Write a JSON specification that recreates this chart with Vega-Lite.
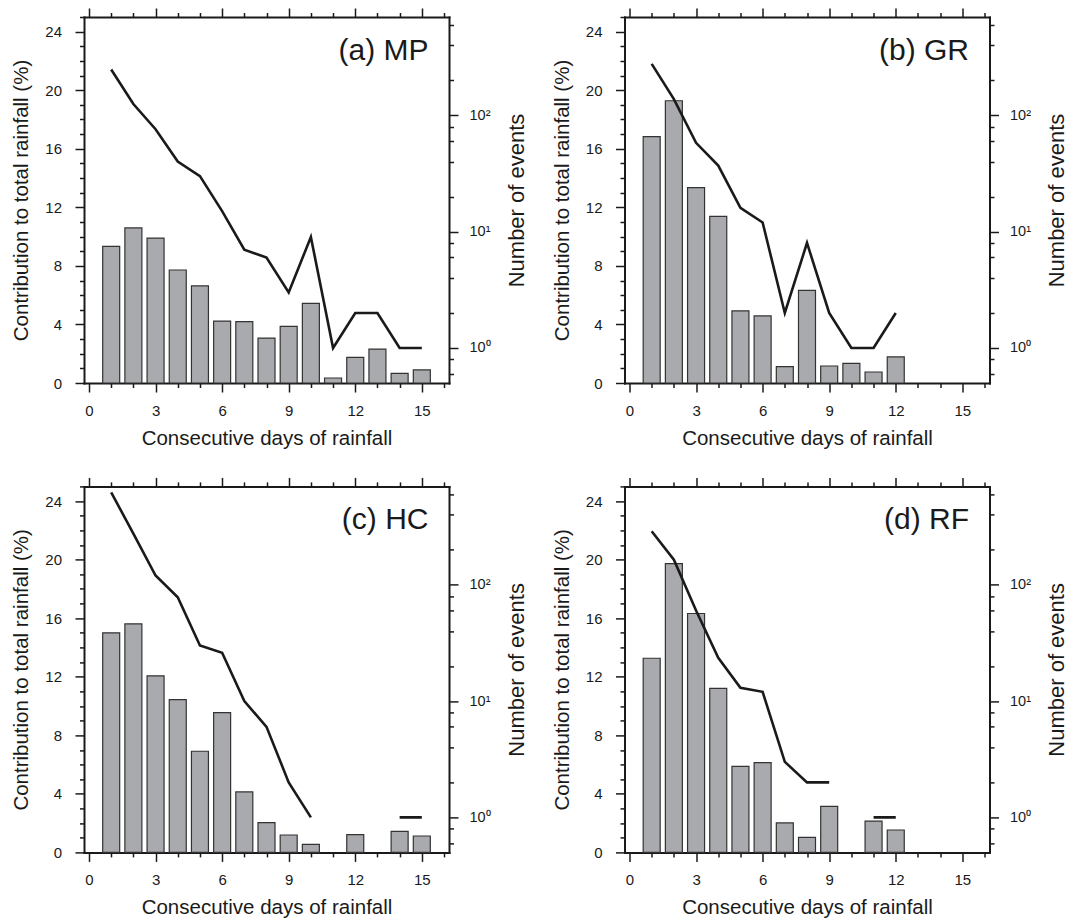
{
  "$schema": "https://vega.github.io/schema/vega-lite/v6.json",
  "background": "white",
  "padding": {"left": 11, "top": 7, "right": 5, "bottom": 2},
  "config": {
    "view": {"stroke": null},
    "axis": {
      "grid": false,
      "labelFont": "Liberation Sans",
      "titleFont": "Liberation Sans",
      "labelFontSize": 15,
      "titleFontSize": 20.5,
      "titleFontWeight": "normal",
      "labelColor": "#1a1a1a",
      "titleColor": "#1a1a1a",
      "domainColor": "#1a1a1a",
      "tickColor": "#1a1a1a",
      "domainWidth": 2,
      "tickWidth": 1.5,
      "labelFlush": false,
      "labelOverlap": false,
      "labelBound": false,
      "domainCap": "square",
      "zindex": 1
    }
  },
  "datasets": {
    "MP": [
      {"day": 1, "pct": 9.33, "events": 248},
      {"day": 2, "pct": 10.59, "events": 125},
      {"day": 3, "pct": 9.9, "events": 76},
      {"day": 4, "pct": 7.72, "events": 40},
      {"day": 5, "pct": 6.63, "events": 30},
      {"day": 6, "pct": 4.23, "events": 15},
      {"day": 7, "pct": 4.19, "events": 7},
      {"day": 8, "pct": 3.07, "events": 6},
      {"day": 9, "pct": 3.87, "events": 3},
      {"day": 10, "pct": 5.44, "events": 9},
      {"day": 11, "pct": 0.34, "events": 1},
      {"day": 12, "pct": 1.75, "events": 2},
      {"day": 13, "pct": 2.32, "events": 2},
      {"day": 14, "pct": 0.66, "events": 1},
      {"day": 15, "pct": 0.89, "events": 1}
    ],
    "GR": [
      {"day": 1, "pct": 16.83, "events": 277},
      {"day": 2, "pct": 19.28, "events": 138},
      {"day": 3, "pct": 13.34, "events": 58},
      {"day": 4, "pct": 11.38, "events": 37},
      {"day": 5, "pct": 4.92, "events": 16},
      {"day": 6, "pct": 4.58, "events": 12},
      {"day": 7, "pct": 1.12, "events": 2},
      {"day": 8, "pct": 6.33, "events": 8},
      {"day": 9, "pct": 1.16, "events": 2},
      {"day": 10, "pct": 1.34, "events": 1},
      {"day": 11, "pct": 0.75, "events": 1},
      {"day": 12, "pct": 1.78, "events": 2}
    ],
    "HC": [
      {"day": 1, "pct": 15.0, "events": 622},
      {"day": 2, "pct": 15.61, "events": 275},
      {"day": 3, "pct": 12.06, "events": 120},
      {"day": 4, "pct": 10.44, "events": 78},
      {"day": 5, "pct": 6.91, "events": 30},
      {"day": 6, "pct": 9.55, "events": 26},
      {"day": 7, "pct": 4.13, "events": 10},
      {"day": 8, "pct": 2.03, "events": 6},
      {"day": 9, "pct": 1.19, "events": 2},
      {"day": 10, "pct": 0.55, "events": 1},
      {"day": 11, "pct": null, "events": null},
      {"day": 12, "pct": 1.21, "events": null},
      {"day": 13, "pct": null, "events": null},
      {"day": 14, "pct": 1.44, "events": 1},
      {"day": 15, "pct": 1.12, "events": 1}
    ],
    "RF": [
      {"day": 1, "pct": 13.26, "events": 288},
      {"day": 2, "pct": 19.72, "events": 164},
      {"day": 3, "pct": 16.32, "events": 60},
      {"day": 4, "pct": 11.21, "events": 23.5},
      {"day": 5, "pct": 5.88, "events": 13},
      {"day": 6, "pct": 6.13, "events": 12},
      {"day": 7, "pct": 2.01, "events": 3},
      {"day": 8, "pct": 1.03, "events": 2},
      {"day": 9, "pct": 3.15, "events": 2},
      {"day": 10, "pct": null, "events": null},
      {"day": 11, "pct": 2.14, "events": 1},
      {"day": 12, "pct": 1.53, "events": 1}
    ]
  },
  "columns": 2,
  "spacing": {"row": 103.4, "column": 175.5},
  "bounds": "flush",
  "concat": [
    {
      "data": {"name": "MP"},
      "width": 365, "height": 366,
      "title": {"text": "(a) MP", "anchor": "end", "frame": "group", "fontSize": 30, "fontWeight": "normal", "font": "Liberation Sans", "color": "#1a1a1a", "baseline": "alphabetic", "dx": -20.5, "dy": 87, "offset": 4},
      "layer": [
        {"mark": {"type": "bar", "size": 17, "fill": "#a9aaae", "stroke": "#333333", "strokeWidth": 1.2},
         "encoding": {
           "x": {"field": "day", "type": "quantitative", "scale": {"domain": [0, 16], "nice": false, "zero": false}, "axis": {"orient": "bottom", "values": [0, 3, 6, 9, 12, 15], "tickSize": 9, "labelPadding": 11.5, "title": "Consecutive days of rainfall", "titlePadding": 10}},
           "y": {"field": "pct", "type": "quantitative", "scale": {"domain": [0, 25], "nice": false}, "axis": {"orient": "left", "values": [0, 4, 8, 12, 16, 20, 24], "tickSize": 9, "labelPadding": 13.5, "title": "Contribution to total rainfall (%)", "titlePadding": 13}}
         }},
        {"mark": {"type": "line", "stroke": "#1a1a1a", "strokeWidth": 2.6, "invalid": "break-paths-filter-domains"},
         "encoding": {
           "x": {"field": "day", "type": "quantitative", "scale": {"domain": [0, 16], "nice": false, "zero": false}, "axis": {"orient": "bottom", "values": [1, 2, 4, 5, 7, 8, 10, 11, 13, 14, 16], "tickSize": 4.5, "labels": false, "domain": false, "title": null}},
           "y": {"field": "events", "type": "quantitative", "scale": {"type": "log", "domain": [0.5, 700], "nice": false}, "axis": {"orient": "right", "values": [1, 10, 100], "tickSize": 9, "labelPadding": 11, "labelFontSize": 14.5, "labelExpr": "datum.value == 1 ? '10⁰' : datum.value == 10 ? '10¹' : '10²'", "title": "Number of events", "titleAngle": -90, "titleBaseline": "top", "titlePadding": 16, "titleFontSize": 22}}
         }},
        {"mark": {"type": "point", "opacity": 0},
         "encoding": {
           "x": {"field": "day", "type": "quantitative", "scale": {"domain": [0, 16], "nice": false, "zero": false}, "axis": {"orient": "top", "values": [0, 3, 6, 9, 12, 15], "tickSize": 9, "labels": false, "title": null}},
           "y": {"field": "pct", "type": "quantitative", "scale": {"domain": [0, 25], "nice": false}, "axis": {"orient": "left", "values": [1, 2, 3, 5, 6, 7, 9, 10, 11, 13, 14, 15, 17, 18, 19, 21, 22, 23, 25], "tickSize": 4.5, "labels": false, "domain": false, "title": null}}
         }},
        {"mark": {"type": "point", "opacity": 0},
         "encoding": {
           "x": {"field": "day", "type": "quantitative", "scale": {"domain": [0, 16], "nice": false, "zero": false}, "axis": {"orient": "top", "values": [1, 2, 4, 5, 7, 8, 10, 11, 13, 14, 16], "tickSize": 4.5, "labels": false, "domain": false, "title": null}},
           "y": {"field": "events", "type": "quantitative", "scale": {"type": "log", "domain": [0.5, 700], "nice": false}, "axis": {"orient": "right", "values": [0.6, 0.8, 2, 4, 6, 8, 20, 40, 60, 80, 200, 400, 600], "tickSize": 4.5, "labels": false, "domain": false, "title": null}}
         }}
      ],
      "resolve": {"scale": {"y": "independent"}, "axis": {"x": "independent", "y": "independent"}}
    },
    {
      "data": {"name": "GR"},
      "width": 365, "height": 366,
      "title": {"text": "(b) GR", "anchor": "end", "frame": "group", "fontSize": 30, "fontWeight": "normal", "font": "Liberation Sans", "color": "#1a1a1a", "baseline": "alphabetic", "dx": -20.5, "dy": 87, "offset": 4},
      "layer": [
        {"mark": {"type": "bar", "size": 17, "fill": "#a9aaae", "stroke": "#333333", "strokeWidth": 1.2},
         "encoding": {
           "x": {"field": "day", "type": "quantitative", "scale": {"domain": [0, 16], "nice": false, "zero": false}, "axis": {"orient": "bottom", "values": [0, 3, 6, 9, 12, 15], "tickSize": 9, "labelPadding": 11.5, "title": "Consecutive days of rainfall", "titlePadding": 10}},
           "y": {"field": "pct", "type": "quantitative", "scale": {"domain": [0, 25], "nice": false}, "axis": {"orient": "left", "values": [0, 4, 8, 12, 16, 20, 24], "tickSize": 9, "labelPadding": 13.5, "title": "Contribution to total rainfall (%)", "titlePadding": 13}}
         }},
        {"mark": {"type": "line", "stroke": "#1a1a1a", "strokeWidth": 2.6, "invalid": "break-paths-filter-domains"},
         "encoding": {
           "x": {"field": "day", "type": "quantitative", "scale": {"domain": [0, 16], "nice": false, "zero": false}, "axis": {"orient": "bottom", "values": [1, 2, 4, 5, 7, 8, 10, 11, 13, 14, 16], "tickSize": 4.5, "labels": false, "domain": false, "title": null}},
           "y": {"field": "events", "type": "quantitative", "scale": {"type": "log", "domain": [0.5, 700], "nice": false}, "axis": {"orient": "right", "values": [1, 10, 100], "tickSize": 9, "labelPadding": 11, "labelFontSize": 14.5, "labelExpr": "datum.value == 1 ? '10⁰' : datum.value == 10 ? '10¹' : '10²'", "title": "Number of events", "titleAngle": -90, "titleBaseline": "top", "titlePadding": 16, "titleFontSize": 22}}
         }},
        {"mark": {"type": "point", "opacity": 0},
         "encoding": {
           "x": {"field": "day", "type": "quantitative", "scale": {"domain": [0, 16], "nice": false, "zero": false}, "axis": {"orient": "top", "values": [0, 3, 6, 9, 12, 15], "tickSize": 9, "labels": false, "title": null}},
           "y": {"field": "pct", "type": "quantitative", "scale": {"domain": [0, 25], "nice": false}, "axis": {"orient": "left", "values": [1, 2, 3, 5, 6, 7, 9, 10, 11, 13, 14, 15, 17, 18, 19, 21, 22, 23, 25], "tickSize": 4.5, "labels": false, "domain": false, "title": null}}
         }},
        {"mark": {"type": "point", "opacity": 0},
         "encoding": {
           "x": {"field": "day", "type": "quantitative", "scale": {"domain": [0, 16], "nice": false, "zero": false}, "axis": {"orient": "top", "values": [1, 2, 4, 5, 7, 8, 10, 11, 13, 14, 16], "tickSize": 4.5, "labels": false, "domain": false, "title": null}},
           "y": {"field": "events", "type": "quantitative", "scale": {"type": "log", "domain": [0.5, 700], "nice": false}, "axis": {"orient": "right", "values": [0.6, 0.8, 2, 4, 6, 8, 20, 40, 60, 80, 200, 400, 600], "tickSize": 4.5, "labels": false, "domain": false, "title": null}}
         }}
      ],
      "resolve": {"scale": {"y": "independent"}, "axis": {"x": "independent", "y": "independent"}}
    },
    {
      "data": {"name": "HC"},
      "width": 365, "height": 366,
      "title": {"text": "(c) HC", "anchor": "end", "frame": "group", "fontSize": 30, "fontWeight": "normal", "font": "Liberation Sans", "color": "#1a1a1a", "baseline": "alphabetic", "dx": -20.5, "dy": 86, "offset": 4},
      "layer": [
        {"mark": {"type": "bar", "size": 17, "fill": "#a9aaae", "stroke": "#333333", "strokeWidth": 1.2},
         "encoding": {
           "x": {"field": "day", "type": "quantitative", "scale": {"domain": [0, 16], "nice": false, "zero": false}, "axis": {"orient": "bottom", "values": [0, 3, 6, 9, 12, 15], "tickSize": 9, "labelPadding": 11.5, "title": "Consecutive days of rainfall", "titlePadding": 10}},
           "y": {"field": "pct", "type": "quantitative", "scale": {"domain": [0, 25], "nice": false}, "axis": {"orient": "left", "values": [0, 4, 8, 12, 16, 20, 24], "tickSize": 9, "labelPadding": 13.5, "title": "Contribution to total rainfall (%)", "titlePadding": 13}}
         }},
        {"mark": {"type": "line", "stroke": "#1a1a1a", "strokeWidth": 2.6, "invalid": "break-paths-filter-domains"},
         "encoding": {
           "x": {"field": "day", "type": "quantitative", "scale": {"domain": [0, 16], "nice": false, "zero": false}, "axis": {"orient": "bottom", "values": [1, 2, 4, 5, 7, 8, 10, 11, 13, 14, 16], "tickSize": 4.5, "labels": false, "domain": false, "title": null}},
           "y": {"field": "events", "type": "quantitative", "scale": {"type": "log", "domain": [0.5, 700], "nice": false}, "axis": {"orient": "right", "values": [1, 10, 100], "tickSize": 9, "labelPadding": 11, "labelFontSize": 14.5, "labelExpr": "datum.value == 1 ? '10⁰' : datum.value == 10 ? '10¹' : '10²'", "title": "Number of events", "titleAngle": -90, "titleBaseline": "top", "titlePadding": 16, "titleFontSize": 22}}
         }},
        {"mark": {"type": "point", "opacity": 0},
         "encoding": {
           "x": {"field": "day", "type": "quantitative", "scale": {"domain": [0, 16], "nice": false, "zero": false}, "axis": {"orient": "top", "values": [0, 3, 6, 9, 12, 15], "tickSize": 9, "labels": false, "title": null}},
           "y": {"field": "pct", "type": "quantitative", "scale": {"domain": [0, 25], "nice": false}, "axis": {"orient": "left", "values": [1, 2, 3, 5, 6, 7, 9, 10, 11, 13, 14, 15, 17, 18, 19, 21, 22, 23, 25], "tickSize": 4.5, "labels": false, "domain": false, "title": null}}
         }},
        {"mark": {"type": "point", "opacity": 0},
         "encoding": {
           "x": {"field": "day", "type": "quantitative", "scale": {"domain": [0, 16], "nice": false, "zero": false}, "axis": {"orient": "top", "values": [1, 2, 4, 5, 7, 8, 10, 11, 13, 14, 16], "tickSize": 4.5, "labels": false, "domain": false, "title": null}},
           "y": {"field": "events", "type": "quantitative", "scale": {"type": "log", "domain": [0.5, 700], "nice": false}, "axis": {"orient": "right", "values": [0.6, 0.8, 2, 4, 6, 8, 20, 40, 60, 80, 200, 400, 600], "tickSize": 4.5, "labels": false, "domain": false, "title": null}}
         }}
      ],
      "resolve": {"scale": {"y": "independent"}, "axis": {"x": "independent", "y": "independent"}}
    },
    {
      "data": {"name": "RF"},
      "width": 365, "height": 366,
      "title": {"text": "(d) RF", "anchor": "end", "frame": "group", "fontSize": 30, "fontWeight": "normal", "font": "Liberation Sans", "color": "#1a1a1a", "baseline": "alphabetic", "dx": -20.5, "dy": 86, "offset": 4},
      "layer": [
        {"mark": {"type": "bar", "size": 17, "fill": "#a9aaae", "stroke": "#333333", "strokeWidth": 1.2},
         "encoding": {
           "x": {"field": "day", "type": "quantitative", "scale": {"domain": [0, 16], "nice": false, "zero": false}, "axis": {"orient": "bottom", "values": [0, 3, 6, 9, 12, 15], "tickSize": 9, "labelPadding": 11.5, "title": "Consecutive days of rainfall", "titlePadding": 10}},
           "y": {"field": "pct", "type": "quantitative", "scale": {"domain": [0, 25], "nice": false}, "axis": {"orient": "left", "values": [0, 4, 8, 12, 16, 20, 24], "tickSize": 9, "labelPadding": 13.5, "title": "Contribution to total rainfall (%)", "titlePadding": 13}}
         }},
        {"mark": {"type": "line", "stroke": "#1a1a1a", "strokeWidth": 2.6, "invalid": "break-paths-filter-domains"},
         "encoding": {
           "x": {"field": "day", "type": "quantitative", "scale": {"domain": [0, 16], "nice": false, "zero": false}, "axis": {"orient": "bottom", "values": [1, 2, 4, 5, 7, 8, 10, 11, 13, 14, 16], "tickSize": 4.5, "labels": false, "domain": false, "title": null}},
           "y": {"field": "events", "type": "quantitative", "scale": {"type": "log", "domain": [0.5, 700], "nice": false}, "axis": {"orient": "right", "values": [1, 10, 100], "tickSize": 9, "labelPadding": 11, "labelFontSize": 14.5, "labelExpr": "datum.value == 1 ? '10⁰' : datum.value == 10 ? '10¹' : '10²'", "title": "Number of events", "titleAngle": -90, "titleBaseline": "top", "titlePadding": 16, "titleFontSize": 22}}
         }},
        {"mark": {"type": "point", "opacity": 0},
         "encoding": {
           "x": {"field": "day", "type": "quantitative", "scale": {"domain": [0, 16], "nice": false, "zero": false}, "axis": {"orient": "top", "values": [0, 3, 6, 9, 12, 15], "tickSize": 9, "labels": false, "title": null}},
           "y": {"field": "pct", "type": "quantitative", "scale": {"domain": [0, 25], "nice": false}, "axis": {"orient": "left", "values": [1, 2, 3, 5, 6, 7, 9, 10, 11, 13, 14, 15, 17, 18, 19, 21, 22, 23, 25], "tickSize": 4.5, "labels": false, "domain": false, "title": null}}
         }},
        {"mark": {"type": "point", "opacity": 0},
         "encoding": {
           "x": {"field": "day", "type": "quantitative", "scale": {"domain": [0, 16], "nice": false, "zero": false}, "axis": {"orient": "top", "values": [1, 2, 4, 5, 7, 8, 10, 11, 13, 14, 16], "tickSize": 4.5, "labels": false, "domain": false, "title": null}},
           "y": {"field": "events", "type": "quantitative", "scale": {"type": "log", "domain": [0.5, 700], "nice": false}, "axis": {"orient": "right", "values": [0.6, 0.8, 2, 4, 6, 8, 20, 40, 60, 80, 200, 400, 600], "tickSize": 4.5, "labels": false, "domain": false, "title": null}}
         }}
      ],
      "resolve": {"scale": {"y": "independent"}, "axis": {"x": "independent", "y": "independent"}}
    }
  ]
}
